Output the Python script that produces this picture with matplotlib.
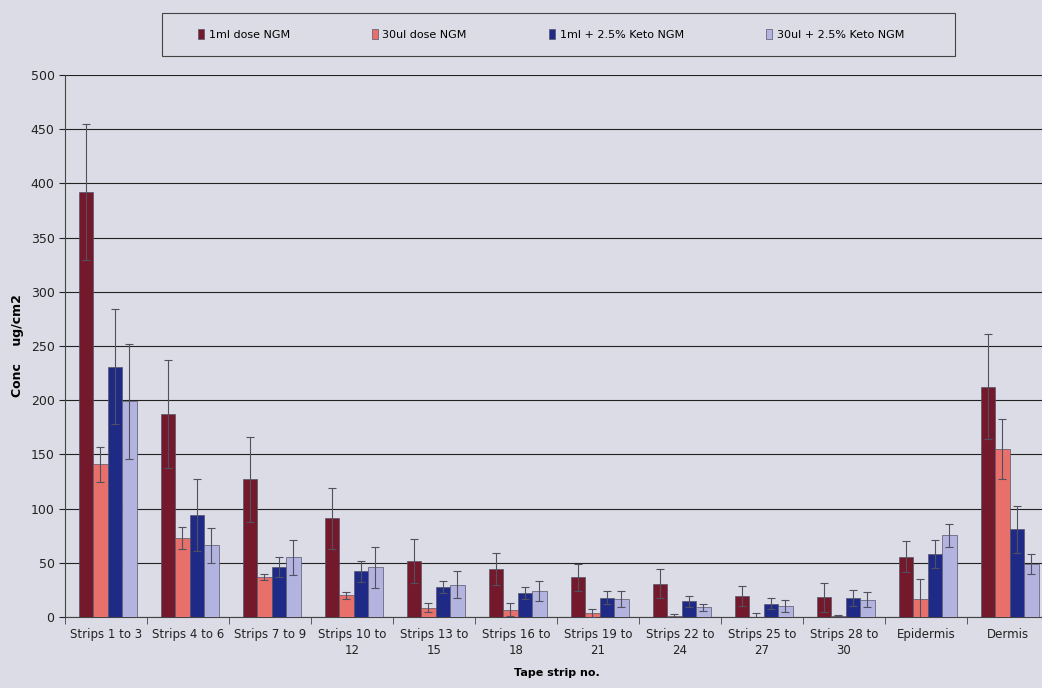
import numpy as np
import matplotlib
matplotlib.use("Agg")
import matplotlib.pyplot as plt
from matplotlib.patches import Rectangle

categories = ["Strips 1 to 3", "Strips 4 to 6", "Strips 7 to 9", "Strips 10 to\n12",
              "Strips 13 to\n15", "Strips 16 to\n18", "Strips 19 to\n21", "Strips 22 to\n24",
              "Strips 25 to\n27", "Strips 28 to\n30", "Epidermis", "Dermis"]
series_names = ["1ml dose NGM", "30ul dose NGM", "1ml + 2.5% Keto NGM", "30ul + 2.5% Keto NGM"]

ml1 = [392, 187, 127, 91, 51.6, 44.3, 36.6, 30.9, 19.7, 18.2, 55.7, 212.5]
ml1_err = [63, 50, 39, 28, 20, 15, 12.4, 13.4, 9.3, 13.3, 14.3, 48.3]
ul30 = [141, 73, 37, 20, 8.6, 6.7, 3.8, 1.3, 0.3, 1.0, 16.9, 155.3]
ul30_err = [16, 10, 3, 3, 4, 6, 3.5, 1.9, 3.5, 0.5, 17.8, 27.7]
keto1 = [231, 94, 46, 42, 27.7, 22, 17.8, 14.6, 12.4, 17.5, 58, 81]
keto1_err = [53, 33, 9, 10, 5.3, 5.7, 5.8, 5.1, 5.4, 7.5, 12.7, 21.7]
keto30 = [199, 66, 55, 46, 29.6, 23.9, 16.2, 8.9, 10.2, 16, 75.3, 48.6]
keto30_err = [53, 16, 16, 19, 12.4, 9.1, 7.4, 3.5, 5.4, 7, 10.7, 9.2]

values = [ml1, ul30, keto1, keto30]
errors = [ml1_err, ul30_err, keto1_err, keto30_err]
colors = ["#74192c", "#e8706a", "#1f2a86", "#b3b3e0"]
bg = "#dcdce6"

fig = plt.figure(figsize=(10.42, 6.88), dpi=100, facecolor=bg)
ax = fig.add_axes([65 / 1042, 1 - 617 / 688, (1049 - 65) / 1042, (617 - 75) / 688])
ax.set_facecolor(bg)

x = np.arange(len(categories))
w = 0.177
for i in range(4):
    pos = x + (i - 1.5) * w + 0.02
    ax.bar(pos, values[i], w, color=colors[i], edgecolor="#55556a", linewidth=0.5,
           label=series_names[i], zorder=3)
    ax.errorbar(pos, values[i], yerr=errors[i], fmt="none", ecolor="#505060",
                elinewidth=0.8, capsize=3, capthick=0.8, zorder=4)

ax.set_xlim(-0.5, len(categories) - 0.5)
ax.set_ylim(0, 500)
ax.set_yticks(range(0, 501, 50))
ax.yaxis.grid(True, color="#222222", linewidth=0.8)
ax.set_axisbelow(True)
ax.set_xticks(x)
ax.set_xticklabels(categories, fontsize=8.5, color="#222222", linespacing=1.3)
ax.tick_params(axis="x", length=0, pad=8)
ax.set_xticks(np.arange(-0.5, len(categories), 1), minor=True)
ax.tick_params(axis="x", which="minor", length=5, color="#444444")
ax.tick_params(axis="y", labelsize=9, colors="#222222", length=4)
for s in ["top", "right"]:
    ax.spines[s].set_visible(False)
ax.spines["left"].set_color("#444444")
ax.spines["bottom"].set_color("#444444")

ax.set_ylabel("Conc    ug/cm2", fontsize=9, fontweight="bold", labelpad=5)
ax.set_xlabel("Tape strip no.", fontsize=8, fontweight="bold", labelpad=8)

# legend frame drawn separately, legend entries placed inside it
fig.patches.append(Rectangle((162 / 1042, 1 - 56 / 688), (955 - 162) / 1042, 43 / 688,
                             transform=fig.transFigure, facecolor=bg, edgecolor="#444444",
                             linewidth=0.8, zorder=0))
leg = fig.legend(loc="center left", bbox_to_anchor=(188 / 1042, 1 - 34.5 / 688),
                 ncol=4, frameon=False, fontsize=8, columnspacing=7.4,
                 handlelength=0.55, handleheight=0.9, handletextpad=0.4)

fig.savefig("out.png", dpi=100, facecolor=bg)
